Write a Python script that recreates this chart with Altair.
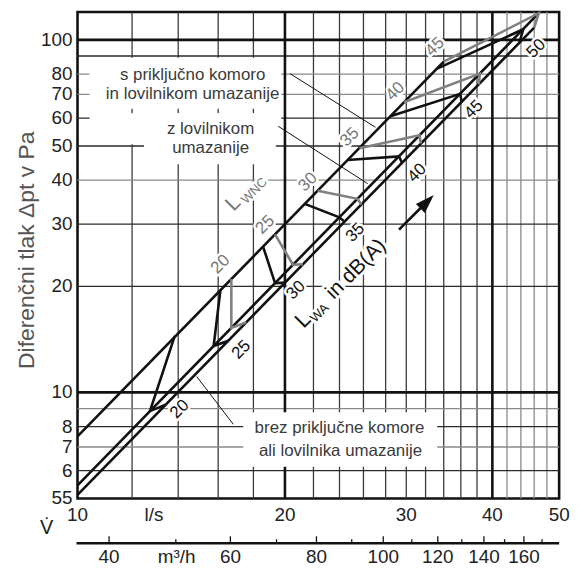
import altair as alt
import pandas as pd

FONT = "Liberation Sans"
W, H = 485, 490
X_DOMAIN = [10, 50]
Y_DOMAIN = [5, 120]

# ---------------- grid / ticks ----------------
x_grid_dark = [12, 14, 16, 18, 22, 24, 26, 28, 30, 32, 34, 36, 38]
x_grid_light = [42, 44, 46, 48]
x_grid_major = [20, 40]
y_grid_dark = [6, 8, 20, 30, 50, 60, 90]
y_grid_light = [7, 9, 40, 70, 80]
y_grid_major = [10, 100]

x_ticks = [10, 20, 30, 40, 50]
x_tick_labels = ["10", "20", "30", "40", "50"]
y_ticks = [5, 6, 7, 8, 10, 20, 30, 40, 50, 60, 70, 80, 100]
y_tick_labels = ["55", "6", "7", "8", "10", "20", "30", "40", "50", "60", "70", "80", "100"]
m3h_major = [40, 60, 80, 100, 120, 140, 160]
m3h_minor = [50, 70, 90, 110, 130, 150, 170]

# ---------------- pressure curves (l/s, Pa) ----------------
curve_keys = ["s komoro in lovilnikom", "z lovilnikom", "brez"]
curve_x = [[10, 34.0], [10, 46.7], [10, 46.0]]
curve_y = [[7.5, 86.7], [5.45, 119.0], [5.12, 108.3]]

# ---------------- sound isolines ----------------
lwa_levels = [20, 25, 30, 35, 40, 45, 50]
lwa_x = [[13.84, 12.74, 13.43], [16.12, 15.76, 16.55], [18.59, 19.35, 20.0],
         [21.37, 23.99, 24.42], [24.65, 29.28, 29.58], [28.45, 35.92, 36.1],
         [33.2, 44.36, 43.77]]
lwa_y = [[14.47, 8.85, 9.23], [19.49, 13.54, 14.02], [25.92, 20.4, 20.48],
         [34.25, 31.37, 30.5], [45.6, 46.7, 44.8], [60.7, 70.3, 66.7],
         [82.7, 107.2, 98.1]]
lwa_label_x = [14.07, 17.29, 20.75, 25.3, 31.1, 37.6, 46.3]
lwa_label_y = [8.96, 13.22, 19.5, 28.4, 41.9, 63.5, 94.5]

lwnc_levels = [20, 25, 30, 35, 40, 45]
lwnc_x = [[16.72, 16.72, 17.58], [19.35, 20.55, 21.24], [22.31, 25.49, 25.82],
          [25.65, 31.35, 31.5], [29.78, 38.36, 38.23], [34.0, 46.7, 46.0]]
lwnc_y = [[20.97, 15.24, 15.82], [28.08, 23.0, 23.1], [37.3, 35.4, 34.1],
          [49.3, 53.6, 50.8], [66.5, 80.2, 74.8], [86.7, 119.0, 108.3]]
lwnc_label_x = [16.12, 18.72, 21.6, 24.83, 28.92, 33.02]
lwnc_label_y = [23.08, 29.9, 39.5, 53.0, 71.4, 95.6]

# ---------------- annotations ----------------
ann_text = ["s priključno komoro", "in lovilnikom umazanije", "z lovilnikom",
            "umazanije", "brez priključne komore", "ali lovilnika umazanije"]
ann_x = [14.69, 14.69, 15.6, 15.6, 24.0, 24.08]
ann_y = [79.7, 70.0, 55.8, 49.3, 7.92, 6.82]

leader_x = [[20.34, 27.06], [19.55, 26.37], [14.89, 16.83]]
leader_y = [[80.2, 56.5], [56.9, 39.1], [11.1, 8.12]]

box_x1 = [10.41, 10.41, 12.49, 17.40]
box_x2 = [19.75, 19.75, 19.4, 33.26]
box_y1 = [89.0, 61.9, 61.9, 8.78]
box_y2 = [63.8, 50.6, 44.4, 6.15]

lwa_caption = ["L", "WA", "in dB(A)"]
lwa_caption_x = [21.24, 22.45, 25.37]
lwa_caption_y = [16.06, 16.8, 22.36]
lwnc_caption = ["L", "WNC"]
lwnc_caption_x = [16.83, 18.05]
lwnc_caption_y = [34.3, 37.3]

arrow_x = [29.28, 31.5]
arrow_y = [28.97, 33.4]
arrow_head = (31.84, 34.07)

y_title = "Diferenčni tlak Δpt v Pa"

# ---------------- helpers ----------------
xs = alt.Scale(type="log", domain=X_DOMAIN, nice=False)
ys = alt.Scale(type="log", domain=Y_DOMAIN, nice=False)


def xe(f="x"):
    return alt.X(f"{f}:Q", scale=xs, axis=None, title=None)


def ye(f="y"):
    return alt.Y(f"{f}:Q", scale=ys, axis=None, title=None)


def poly_df(xl, yl, keys):
    rows = []
    for k, px, py in zip(keys, xl, yl):
        for j, (a, b) in enumerate(zip(px, py)):
            rows.append({"key": str(k), "ord": j, "x": a, "y": b})
    return pd.DataFrame(rows)


def vrules(vals, color, width):
    return alt.Chart(pd.DataFrame({"x": vals})).mark_rule(color=color, strokeWidth=width).encode(
        x=xe("x"), y=alt.value(0), y2=alt.value(H))


def hrules(vals, color, width):
    return alt.Chart(pd.DataFrame({"y": vals})).mark_rule(color=color, strokeWidth=width).encode(
        y=ye("y"), x=alt.value(0), x2=alt.value(W))


def texts(xl, yl, tl, size, color, angle=0, halo=0, **kw):
    df = pd.DataFrame({"x": xl, "y": yl, "text": [str(t) for t in tl]})
    base = alt.Chart(df).encode(x=xe("x"), y=ye("y"), text="text:N")
    out = []
    if halo:
        out.append(base.mark_text(font=FONT, fontSize=size, angle=angle, color="white",
                                  stroke="white", strokeWidth=halo, strokeJoin="round", **kw))
    out.append(base.mark_text(font=FONT, fontSize=size, angle=angle, color=color, **kw))
    return out


layers = []
# grid
layers.append(vrules(x_grid_dark, "#3a3a3a", 1.3))
layers.append(vrules(x_grid_light, "#8a8a8a", 1.3))
layers.append(hrules(y_grid_dark, "#2a2a2a", 1.3))
layers.append(hrules(y_grid_light, "#8a8a8a", 1.3))
layers.append(vrules(x_grid_major, "#111", 2.6))
layers.append(hrules(y_grid_major, "#111", 2.6))

# white boxes behind annotations
boxes = pd.DataFrame({"x1": box_x1, "x2": box_x2, "y1": box_y1, "y2": box_y2})
layers.append(alt.Chart(boxes).mark_rect(color="white").encode(
    x=xe("x1"), x2="x2:Q", y=ye("y1"), y2="y2:Q"))

# leader lines
layers.append(alt.Chart(poly_df(leader_x, leader_y, range(3))).mark_line(
    color="#111", strokeWidth=1).encode(x=xe(), y=ye(), detail="key:N", order="ord:Q"))

# main pressure curves
layers.append(alt.Chart(poly_df(curve_x, curve_y, curve_keys)).mark_line(
    color="#111", strokeWidth=2.6).encode(x=xe(), y=ye(), detail="key:N", order="ord:Q"))

# isolines
layers.append(alt.Chart(poly_df(lwnc_x, lwnc_y, lwnc_levels)).mark_line(
    color="#808080", strokeWidth=2.6, strokeJoin="miter").encode(
    x=xe(), y=ye(), detail="key:N", order="ord:Q"))
layers.append(alt.Chart(poly_df(lwa_x, lwa_y, lwa_levels)).mark_line(
    color="#111", strokeWidth=2.6, strokeJoin="miter").encode(
    x=xe(), y=ye(), detail="key:N", order="ord:Q"))

# labels
layers += texts(lwnc_label_x, lwnc_label_y, lwnc_levels, 17, "#777", angle=315, halo=5)
layers += texts(lwa_label_x, lwa_label_y, lwa_levels, 17, "#111", angle=315, halo=5)
layers += texts(ann_x, ann_y, ann_text, 17, "#3a3a3a")
layers += texts(lwa_caption_x[:1], lwa_caption_y[:1], lwa_caption[:1], 22, "#111", angle=315, halo=6)
layers += texts(lwa_caption_x[1:2], lwa_caption_y[1:2], lwa_caption[1:2], 13, "#111", angle=315, halo=5)
layers += texts(lwa_caption_x[2:], lwa_caption_y[2:], lwa_caption[2:], 21, "#111", angle=315, halo=6)
layers += texts(lwnc_caption_x[:1], lwnc_caption_y[:1], lwnc_caption[:1], 21, "#777", angle=315, halo=6)
layers += texts(lwnc_caption_x[1:], lwnc_caption_y[1:], lwnc_caption[1:], 13, "#777", angle=315, halo=5)

# arrow
layers.append(alt.Chart(pd.DataFrame({"x": arrow_x, "y": arrow_y})).mark_line(
    color="#111", strokeWidth=2.6).encode(x=xe(), y=ye()))
layers.append(alt.Chart(pd.DataFrame({"x": [arrow_head[0]], "y": [arrow_head[1]]})).mark_point(
    shape="M0,-1.3L0.6,0.5L-0.6,0.5Z", angle=45, filled=True, color="#111", size=450,
    opacity=1).encode(x=xe(), y=ye()))

# axis tick labels (l/s and Pa)
layers.append(alt.Chart(pd.DataFrame({"x": x_ticks, "text": x_tick_labels})).mark_text(
    font=FONT, fontSize=19, color="#222", baseline="middle", align="center").encode(
    x=xe("x"), y=alt.value(507), text="text:N"))
layers.append(alt.Chart(pd.DataFrame({"y": y_ticks, "text": y_tick_labels})).mark_text(
    font=FONT, fontSize=19, color="#222", baseline="middle", align="right").encode(
    y=ye("y"), x=alt.value(-5), text="text:N"))

# secondary m3/h axis
layers.append(alt.Chart(pd.DataFrame({"a": [0]})).mark_rule(color="#111", strokeWidth=2.6).encode(
    x=alt.value(-1), x2=alt.value(W), y=alt.value(535)))
layers.append(alt.Chart(pd.DataFrame({"m3h": m3h_major})).transform_calculate(
    lx="datum.m3h / 3.6").mark_rule(color="#111", strokeWidth=1.3).encode(
    x=xe("lx"), y=alt.value(528), y2=alt.value(535)))
layers.append(alt.Chart(pd.DataFrame({"m3h": m3h_minor})).transform_calculate(
    lx="datum.m3h / 3.6").mark_rule(color="#111", strokeWidth=1.3).encode(
    x=xe("lx"), y=alt.value(531), y2=alt.value(535)))
layers.append(alt.Chart(pd.DataFrame({"m3h": m3h_major})).transform_calculate(
    lx="datum.m3h / 3.6", t="toString(datum.m3h)").mark_text(
    font=FONT, fontSize=19, color="#222", baseline="middle").encode(
    x=xe("lx"), y=alt.value(549), text="t:N"))

# unit labels
unit_df = pd.DataFrame({"x": [12.91, 13.93], "text": ["l/s", "m³/h"]})
layers.append(alt.Chart(unit_df.iloc[:1]).mark_text(font=FONT, fontSize=19, color="#222", baseline="middle").encode(
    x=xe("x"), y=alt.value(507), text="text:N"))
layers.append(alt.Chart(unit_df.iloc[1:]).mark_text(font=FONT, fontSize=19, color="#222", baseline="middle").encode(
    x=xe("x"), y=alt.value(549), text="text:N"))
layers.append(alt.Chart(pd.DataFrame({"text": ["V\u0307"]})).mark_text(
    font=FONT, fontSize=20, color="#222", baseline="middle").encode(
    x=alt.value(-31), y=alt.value(520), text="text:N"))
layers.append(alt.Chart(pd.DataFrame({"text": [y_title]})).mark_text(
    font=FONT, fontSize=23, color="#555", angle=270, baseline="middle").encode(
    x=alt.value(-51), y=alt.value(240), text="text:N"))

chart = alt.layer(*layers).properties(
    width=W, height=H, autosize=alt.AutoSizeParams(type="none"),
    padding={"left": 70, "top": 2, "right": 20, "bottom": 70},
).configure_view(stroke="#111", strokeWidth=2.6)

chart.save("out.html", embed_options={"renderer": "svg", "actions": False})
